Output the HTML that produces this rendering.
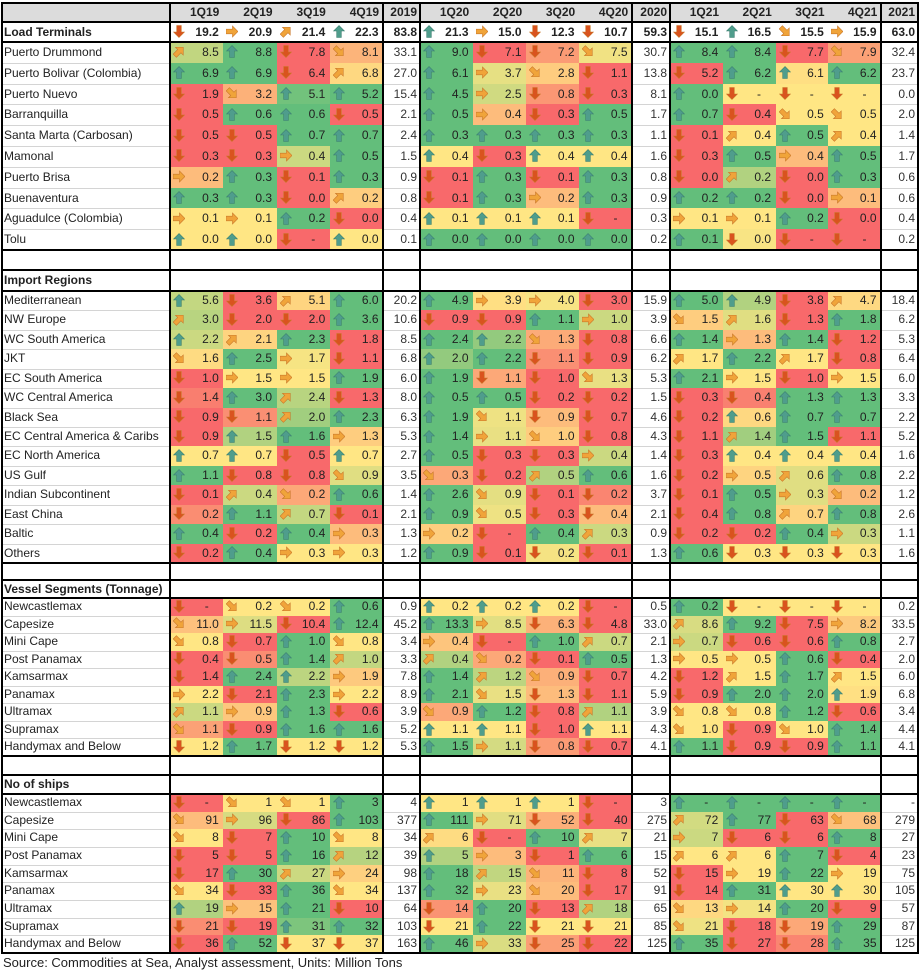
<!DOCTYPE html>
<html><head><meta charset="utf-8"><style>
body{margin:0;background:#fff;width:921px;height:972px;position:relative;overflow:hidden;font-family:"Liberation Sans",sans-serif;font-size:12px;color:#222}
.c{position:absolute;box-sizing:border-box;white-space:nowrap;line-height:1}
.h{position:absolute;background:#000}
.t{position:absolute;background:#d4d4d4}
</style></head><body>
<div id="root"></div>
<script>
var R=document.getElementById('root');
function el(cls,st,html){var d=document.createElement('div');d.className=cls;d.style.cssText=st;if(html!=null)d.innerHTML=html;R.appendChild(d);return d;}
var yrs=[{x0:170,x1:383,tx1:420},{x0:420,x1:632,tx1:670},{x0:670,x1:881,tx1:918}];
var LT=[["Puerto Drummond","8.5 8.8 7.8 8.1 33.1","9.0 7.1 7.2 7.5 30.7","8.4 8.4 7.7 7.9 32.4"],
["Puerto Bolivar (Colombia)","6.9 6.9 6.4 6.8 27.0","6.1 3.7 2.8 1.1 13.8","5.2 6.2 6.1 6.2 23.7"],
["Puerto Nuevo","1.9 3.2 5.1 5.2 15.4","4.5 2.5 0.8 0.3 8.1","0.0 - - - 0.0"],
["Barranquilla","0.5 0.6 0.6 0.5 2.1","0.5 0.4 0.3 0.5 1.7","0.7 0.4 0.5 0.5 2.0"],
["Santa Marta (Carbosan)","0.5 0.5 0.7 0.7 2.4","0.3 0.3 0.3 0.3 1.1","0.1 0.4 0.5 0.4 1.4"],
["Mamonal","0.3 0.3 0.4 0.5 1.5","0.4 0.3 0.4 0.4 1.6","0.3 0.5 0.4 0.5 1.7"],
["Puerto Brisa","0.2 0.3 0.1 0.3 0.9","0.1 0.3 0.1 0.3 0.8","0.0 0.2 0.0 0.3 0.6"],
["Buenaventura","0.3 0.3 0.0 0.2 0.8","0.1 0.3 0.2 0.3 0.9","0.2 0.2 0.0 0.1 0.6"],
["Aguadulce (Colombia)","0.1 0.1 0.2 0.0 0.4","0.1 0.1 0.1 - 0.3","0.1 0.1 0.2 0.0 0.4"],
["Tolu","0.0 0.0 - 0.0 0.1","0.0 0.0 0.0 0.0 0.2","0.1 0.0 - - 0.2"]];
var IR=[["Mediterranean","5.6 3.6 5.1 6.0 20.2","4.9 3.9 4.0 3.0 15.9","5.0 4.9 3.8 4.7 18.4"],
["NW Europe","3.0 2.0 2.0 3.6 10.6","0.9 0.9 1.1 1.0 3.9","1.5 1.6 1.3 1.8 6.2"],
["WC South America","2.2 2.1 2.3 1.8 8.5","2.4 2.2 1.3 0.8 6.6","1.4 1.3 1.4 1.2 5.3"],
["JKT","1.6 2.5 1.7 1.1 6.8","2.0 2.2 1.1 0.9 6.2","1.7 2.2 1.7 0.8 6.4"],
["EC South America","1.0 1.5 1.5 1.9 6.0","1.9 1.1 1.0 1.3 5.3","2.1 1.5 1.0 1.5 6.0"],
["WC Central America","1.4 3.0 2.4 1.3 8.0","0.5 0.5 0.2 0.2 1.5","0.3 0.4 1.3 1.3 3.3"],
["Black Sea","0.9 1.1 2.0 2.3 6.3","1.9 1.1 0.9 0.7 4.6","0.2 0.6 0.7 0.7 2.2"],
["EC Central America & Caribs","0.9 1.5 1.6 1.3 5.3","1.4 1.1 1.0 0.8 4.3","1.1 1.4 1.5 1.1 5.2"],
["EC North America","0.7 0.7 0.5 0.7 2.7","0.5 0.3 0.3 0.4 1.4","0.3 0.4 0.4 0.4 1.6"],
["US Gulf","1.1 0.8 0.8 0.9 3.5","0.3 0.2 0.5 0.6 1.6","0.2 0.5 0.6 0.8 2.2"],
["Indian Subcontinent","0.1 0.4 0.2 0.6 1.4","2.6 0.9 0.1 0.2 3.7","0.1 0.5 0.3 0.2 1.2"],
["East China","0.2 1.1 0.7 0.1 2.1","0.9 0.5 0.3 0.4 2.1","0.4 0.8 0.7 0.8 2.6"],
["Baltic","0.4 0.2 0.4 0.3 1.3","0.2 - 0.4 0.3 0.9","0.2 0.2 0.4 0.3 1.1"],
["Others","0.2 0.4 0.3 0.3 1.2","0.9 0.1 0.2 0.1 1.3","0.6 0.3 0.3 0.3 1.6"]];
var VS=[["Newcastlemax","- 0.2 0.2 0.6 0.9","0.2 0.2 0.2 - 0.5","0.2 - - - 0.2"],
["Capesize","11.0 11.5 10.4 12.4 45.2","13.3 8.5 6.3 4.8 33.0","8.6 9.2 7.5 8.2 33.5"],
["Mini Cape","0.8 0.7 1.0 0.8 3.4","0.4 - 1.0 0.7 2.1","0.7 0.6 0.6 0.8 2.7"],
["Post Panamax","0.4 0.5 1.4 1.0 3.3","0.4 0.2 0.1 0.5 1.3","0.5 0.5 0.6 0.4 2.0"],
["Kamsarmax","1.4 2.4 2.2 1.9 7.8","1.4 1.2 0.9 0.7 4.2","1.2 1.5 1.7 1.5 6.0"],
["Panamax","2.2 2.1 2.3 2.2 8.9","2.1 1.5 1.3 1.1 5.9","0.9 2.0 2.0 1.9 6.8"],
["Ultramax","1.1 0.9 1.3 0.6 3.9","0.9 1.2 0.8 1.1 3.9","0.8 0.8 1.2 0.6 3.4"],
["Supramax","1.1 0.9 1.6 1.6 5.2","1.1 1.1 1.0 1.1 4.3","1.0 0.9 1.0 1.4 4.4"],
["Handymax and Below","1.2 1.7 1.2 1.2 5.3","1.5 1.1 0.8 0.7 4.1","1.1 0.9 0.9 1.1 4.1"]];
var NS=[["Newcastlemax","- 1 1 3 4","1 1 1 - 3","- - - - -"],
["Capesize","91 96 86 103 377","111 71 52 40 275","72 77 63 68 279"],
["Mini Cape","8 7 10 8 34","6 - 10 7 21","7 6 6 8 27"],
["Post Panamax","5 5 16 12 39","5 3 1 6 15","6 6 7 4 23"],
["Kamsarmax","17 30 27 24 98","18 15 11 8 52","15 19 22 19 75"],
["Panamax","34 33 36 34 137","32 23 20 17 91","14 31 30 30 105"],
["Ultramax","19 15 21 10 64","14 20 13 18 65","13 14 20 9 57"],
["Supramax","21 19 31 32 103","21 22 21 21 85","21 18 19 29 87"],
["Handymax and Below","36 52 37 37 163","46 33 25 22 125","35 27 28 35 125"]];

function lerp(a,b,t){return [0,1,2].map(function(i){return Math.round(a[i]+(b[i]-a[i])*t)});}
var RED=[248,105,107],YEL=[255,230,132],GRN=[99,190,123];
function arrow(k){
  var col=['#d9531e','#f0a43a','#f0a43a','#f0a43a','#4f9d8c'][k];
  var rot=[180,135,90,45,0][k];
  return '<svg width="12" height="13" viewBox="0 0 12 13" style="position:absolute;left:3px;top:50%;margin-top:-7px"><g transform="rotate('+rot+' 6 6.5)"><polygon points="6,0.5 11.5,6 8.3,6 8.3,12.5 3.7,12.5 3.7,6 0.5,6" fill="'+col+'" stroke="'+(k==4?'#3c7f70':'#c9772a')+'" stroke-width="0.6"/></g></svg>';
}
function numv(s){return s=='-'?-0.01:parseFloat(s);}
function drawVals(y,h,specs,filled){
  for(var g=0;g<3;g++){
    var p=specs[g].split(' '),q=p.slice(0,4),v=q.map(numv);
    var mn=Math.min.apply(0,v),mx=Math.max.apply(0,v);
    var s=v.slice().sort(function(a,b){return a-b}),med=(s[1]+s[2])/2;
    var Y=yrs[g],w=(Y.x1-Y.x0)/4;
    for(var i=0;i<4;i++){
      var bg='#fff',k;
      if(mx==mn){k=4;bg='rgb('+GRN+')';}
      else{
        var pc=(v[i]-mn)/(mx-mn)*100;
        k=pc>=80?4:pc>=60?3:pc>=40?2:pc>=20?1:0;
        var c;
        if(v[i]<=med){c=med==mn?YEL:lerp(RED,YEL,(v[i]-mn)/(med-mn));}
        else{c=mx==med?YEL:lerp(YEL,GRN,(v[i]-med)/(mx-med));}
        bg='rgb('+c+')';
      }
      if(!filled)bg='#fff';
      var x=Y.x0+i*w;
      el('c','left:'+x+'px;top:'+y+'px;width:'+(w+0.5)+'px;height:'+h+'px;background:'+bg+';padding-right:5px;text-align:right;line-height:'+h+'px;'+(filled?'':'font-weight:bold;'),arrow(k)+(q[i]=='-'?'-&nbsp;&nbsp;&nbsp;':q[i]));
    }
    el('c','left:'+Y.x1+'px;top:'+y+'px;width:'+(Y.tx1-Y.x1)+'px;height:'+h+'px;text-align:right;padding-right:3px;line-height:'+h+'px;color:'+(filled?'#333':'#222')+';'+(filled?'':'font-weight:bold;'),p[4]);
  }
}
var H=[];
function thin(y){el('t','left:2px;top:'+y+'px;width:168px;height:1px');yrs.forEach(function(Y){el('t','left:'+Y.x1+'px;top:'+y+'px;width:'+(Y.tx1-Y.x1)+'px;height:1px');});}
function section(name,yTop,hh,data,rh){
  el('c','left:4px;top:'+yTop+'px;height:'+hh+'px;line-height:'+hh+'px;font-weight:bold',name);
  H.push(yTop);
  var y=yTop+hh;H.push(y);
  data.forEach(function(r,j){
    var yy=y+j*rh;
    el('c','left:4px;top:'+yy+'px;height:'+rh+'px;line-height:'+rh+'px',r[0].replace('&','&amp;'));
    drawVals(yy,rh,[r[1],r[2],r[3]],true);
    if(j>0)thin(yy);
  });
  return y+data.length*rh;
}
el('c','left:2px;top:3px;width:916px;height:19px;background:#dcdcdc');
var ql=[["1Q19","2Q19","3Q19","4Q19","2019"],["1Q20","2Q20","3Q20","4Q20","2020"],["1Q21","2Q21","3Q21","4Q21","2021"]];
yrs.forEach(function(Y,g){var w=(Y.x1-Y.x0)/4;for(var i=0;i<4;i++)el('c','left:'+(Y.x0+i*w+8)+'px;top:3px;width:'+w+'px;height:19px;line-height:19px;text-align:center;font-weight:bold',ql[g][i]);
 el('c','left:'+Y.x1+'px;top:3px;width:'+(Y.tx1-Y.x1)+'px;height:19px;line-height:19px;text-align:right;padding-right:3px;font-weight:bold',ql[g][4]);});
H.push(3,22);
el('c','left:4px;top:22px;height:20px;line-height:20px;font-weight:bold','Load Terminals');
drawVals(22,20,["19.2 20.9 21.4 22.3 83.8","21.3 15.0 12.3 10.7 59.3","15.1 16.5 15.5 15.9 63.0"],false);
H.push(42);
LT.forEach(function(r,j){var yy=42+j*20.8;el('c','left:4px;top:'+yy+'px;height:20.8px;line-height:20.8px',r[0]);drawVals(yy,20.8,[r[1],r[2],r[3]],true);if(j>0)thin(yy);});
H.push(250);
section('Import Regions',270,21,IR,19.43);H.push(563);
section('Vessel Segments (Tonnage)',580,18,VS,17.55);H.push(756);
section('No of ships',775,19,NS,17.67);H.push(953);
H.forEach(function(y){el('h','left:1px;top:'+(y-1)+'px;width:918px;height:2px');});
[1,169,382,419,631,669,880,917].forEach(function(x){el('h','left:'+x+'px;top:2px;width:2px;height:952px');});
el('c','left:3px;top:955px;font-size:13px;line-height:16px;color:#222','Source: Commodities at Sea, Analyst assessment, Units: Million Tons');
</script>
</body></html>
